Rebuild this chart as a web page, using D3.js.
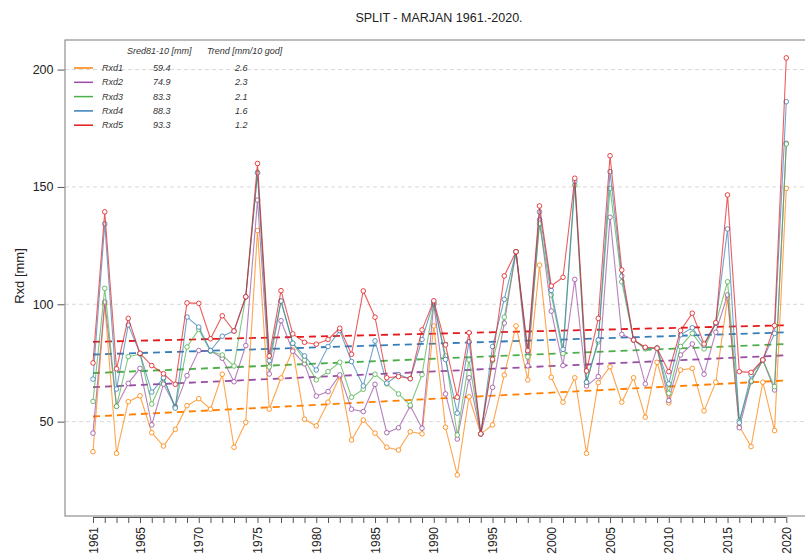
<!DOCTYPE html>
<html>
<head>
<meta charset="utf-8">
<script src="https://cdn.jsdelivr.net/npm/d3@7"></script>
<style>
  html, body { margin: 0; padding: 0; background: #fff; }
  svg { display: block; font-family: "Liberation Sans", Arial, sans-serif; }
</style>
</head>
<body>
<svg id="chart" width="805" height="556"></svg>
<script>
// Annual maximum precipitation over 1..5 consecutive days, Split - Marjan
const years = d3.range(1961, 2021);
const seriesNames = ["Rxd1", "Rxd2", "Rxd3", "Rxd4", "Rxd5"];
const seriesColors = ["#FF7F00", "#984EA3", "#4DAF4A", "#377EB8", "#E41A1C"];

const rxd1 = [37.2,100.1,36.5,58.5,61.0,45.3,39.6,46.7,56.8,59.8,
              55.3,70.2,39.1,49.7,131.4,55.3,68.6,80.5,51.0,48.2,
              58.3,69.2,42.2,50.7,45.1,39.1,37.9,45.7,44.8,90.8,
              47.6,27.3,60.6,44.8,48.6,69.9,90.8,67.8,116.7,68.9,
              58.3,68.7,36.5,66.6,73.4,58.3,68.7,51.9,75.3,58.0,
              72.0,72.7,54.6,66.8,102.6,48.0,39.4,66.8,46.2,149.4];
const rxd2 = [45.1,101.0,56.5,66.3,72.7,48.6,66.0,56.5,69.6,80.3,
              80.2,77.0,67.0,82.4,144.4,70.3,93.0,80.0,74.6,60.9,
              62.8,69.9,55.3,54.3,65.9,45.3,47.4,56.7,47.2,100.0,
              61.8,42.6,68.7,44.8,64.6,92.0,122.4,73.8,136.0,97.1,
              73.9,110.6,65.2,69.2,137.1,87.2,84.8,66.1,81.3,59.0,
              78.4,83.1,70.2,88.1,104.0,47.4,67.0,76.3,63.5,168.6];
const rxd3 = [58.6,106.8,56.5,77.7,78.8,57.5,68.5,56.0,81.8,89.3,
              80.0,78.4,73.7,103.2,156.2,73.3,101.4,83.4,76.3,67.8,
              71.3,75.3,60.4,63.8,70.2,66.1,61.8,57.0,70.0,100.5,
              78.0,44.3,76.3,44.8,76.0,94.5,122.4,77.6,134.5,104.0,
              79.0,150.8,66.9,84.0,149.4,109.6,84.8,81.0,81.3,62.1,
              82.0,87.6,81.0,92.0,109.6,50.4,67.3,76.3,64.9,168.3];
const rxd4 = [68.1,134.3,63.9,91.2,79.1,62.6,68.7,55.8,94.6,90.3,
              80.3,86.4,88.6,103.2,156.0,76.0,101.4,83.4,78.0,72.0,
              82.0,88.8,75.6,65.2,84.4,66.4,70.0,68.3,85.0,101.0,
              76.5,53.6,84.1,44.8,82.0,102.1,122.4,79.8,139.4,105.9,
              80.8,152.5,66.8,84.8,156.5,112.0,84.8,81.5,81.3,66.1,
              87.0,90.0,82.5,92.0,132.1,49.5,69.9,76.3,87.6,186.3];
const rxd5 = [75.0,139.4,72.5,94.0,79.1,73.9,70.4,65.9,100.6,100.4,
              85.3,95.1,88.6,103.2,160.0,78.0,105.8,87.4,83.8,83.0,
              85.0,89.8,78.7,105.7,94.5,68.7,69.2,68.3,89.1,101.5,
              82.7,60.4,87.9,44.8,76.6,112.1,122.4,80.3,141.9,107.8,
              111.5,153.7,71.6,94.0,163.3,114.6,84.8,81.7,81.3,71.3,
              88.8,96.2,83.1,92.2,146.6,71.3,71.0,76.3,90.9,205.0];
const seriesValues = [rxd1, rxd2, rxd3, rxd4, rxd5];

// 1981-2010 means and linear trends (mm per 10 years)
const sred = [59.4, 74.9, 83.3, 88.3, 93.3];
const trendPer10 = [2.6, 2.3, 2.1, 1.6, 1.2];
// trend line value in the first year
const trendStart = [52.2, 64.7, 70.7, 78.6, 84.0];

const yTicks = [50, 100, 150, 200];
const xLabelYears = [1961, 1965, 1970, 1975, 1980, 1985, 1990, 1995, 2000, 2005, 2010, 2015, 2020];

const svg = d3.select("#chart");
const frame = { left: 65, top: 40, right: 808, bottom: 516 };

const x = d3.scaleLinear().domain([1961, 2020]).range([93, 786.3]);
const y = d3.scaleLinear().domain([9.8, 212.6]).range([frame.bottom, frame.top]);

// title
svg.append("text")
  .attr("x", 439).attr("y", 22)
  .attr("text-anchor", "middle")
  .attr("font-size", 12.5).attr("fill", "#222")
  .text("SPLIT - MARJAN 1961.-2020.");

// grid
svg.append("g").selectAll("line").data(yTicks).join("line")
  .attr("x1", frame.left).attr("x2", frame.right)
  .attr("y1", d => y(d)).attr("y2", d => y(d))
  .attr("stroke", "#d9d9d9").attr("stroke-width", 1)
  .attr("stroke-dasharray", "4,3");

// frame
svg.append("rect")
  .attr("x", frame.left).attr("y", frame.top)
  .attr("width", frame.right - frame.left).attr("height", frame.bottom - frame.top)
  .attr("fill", "none").attr("stroke", "#7a7a7a").attr("stroke-width", 1);

// y axis
const yAxis = d3.axisLeft(y).tickValues(yTicks).tickSize(7).tickPadding(4);
const gy = svg.append("g").attr("transform", `translate(${frame.left - 0.5},0)`).call(yAxis);
gy.select(".domain").remove();
gy.selectAll(".tick line").attr("stroke", "#555");
gy.selectAll(".tick text").attr("font-size", 12.5).attr("fill", "#222")
  .attr("font-family", "Liberation Sans, Arial, sans-serif");

svg.append("text")
  .attr("transform", "translate(24,276) rotate(-90)")
  .attr("text-anchor", "middle")
  .attr("font-size", 13).attr("fill", "#222")
  .text("Rxd [mm]");

// x axis: a tick every year, labels every five years
const xAxis = d3.axisBottom(x).tickValues(years).tickSize(6)
  .tickFormat(d => xLabelYears.includes(d) ? String(d) : "");
const gx = svg.append("g").attr("transform", `translate(0,${frame.bottom + 1})`).call(xAxis);
gx.select(".domain").attr("d", `M${x(1961)},0.5H${x(2020)}`).attr("stroke", "#555");
gx.selectAll(".tick line").attr("stroke", "#555");
gx.selectAll(".tick text")
  .attr("font-size", 12).attr("fill", "#222")
  .attr("font-family", "Liberation Sans, Arial, sans-serif")
  .attr("transform", "rotate(-90)")
  .attr("text-anchor", "end")
  .attr("x", -10).attr("y", 0).attr("dy", "0.35em");

// trend lines
const plot = svg.append("g");
seriesNames.forEach((name, i) => {
  const slope = trendPer10[i] / 10;
  const pts = [1961, 2020].map(yr => [yr, trendStart[i] + slope * (yr - 1961)]);
  plot.append("path")
    .attr("d", d3.line().x(d => x(d[0])).y(d => y(d[1]))(pts))
    .attr("fill", "none").attr("stroke", seriesColors[i])
    .attr("stroke-width", 1.8).attr("stroke-dasharray", "7,5");
});

// series lines with open circle markers
seriesNames.forEach((name, i) => {
  const data = years.map((yr, k) => [yr, seriesValues[i][k]]);
  const g = plot.append("g");
  g.append("path")
    .attr("d", d3.line().x(d => x(d[0])).y(d => y(d[1]))(data))
    .attr("fill", "none").attr("stroke", seriesColors[i])
    .attr("stroke-opacity", 0.7).attr("stroke-width", 1.1);
  g.selectAll("circle").data(data).join("circle")
    .attr("cx", d => x(d[0])).attr("cy", d => y(d[1])).attr("r", 2.3)
    .attr("fill", "#fff").attr("stroke", seriesColors[i])
    .attr("stroke-opacity", 0.8).attr("stroke-width", 1);
});

// legend
const leg = svg.append("g")
  .attr("font-size", 9).attr("font-style", "italic").attr("fill", "#333");
leg.append("text").attr("x", 127).attr("y", 54).text("Sred81-10 [mm]");
leg.append("text").attr("x", 207).attr("y", 54).text("Trend [mm/10 god]");
seriesNames.forEach((name, i) => {
  const ry = 68 + i * 14.3;
  leg.append("line")
    .attr("x1", 74).attr("x2", 93).attr("y1", ry).attr("y2", ry)
    .attr("stroke", seriesColors[i]).attr("stroke-width", 1.5);
  leg.append("text").attr("x", 102).attr("y", ry + 3).text(name);
  leg.append("text").attr("x", 153).attr("y", ry + 3).text(sred[i].toFixed(1));
  leg.append("text").attr("x", 235).attr("y", ry + 3).text(trendPer10[i].toFixed(1));
});
</script>
</body>
</html>
